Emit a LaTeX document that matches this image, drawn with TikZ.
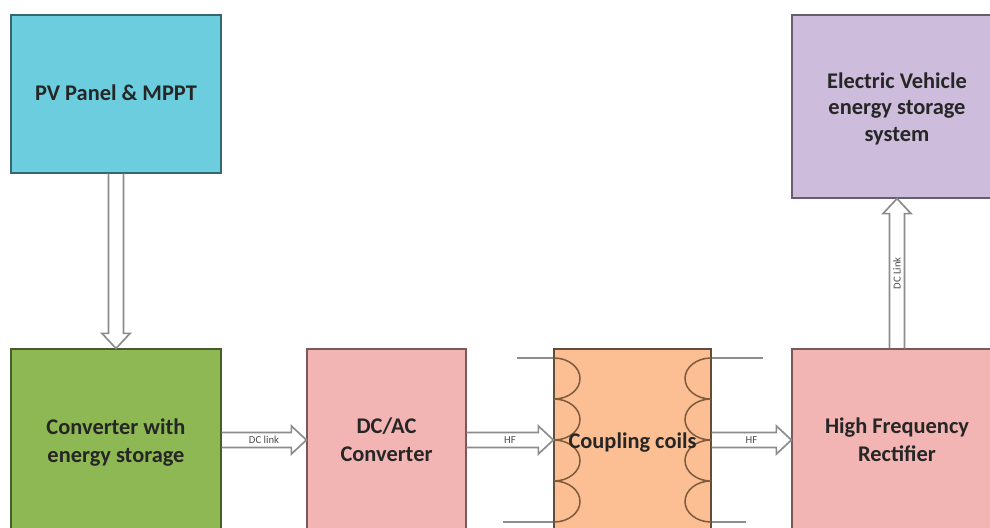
\documentclass[tikz,border=0pt]{standalone}
\usepackage{fontspec}
\setmainfont{Carlito}
\definecolor{wptcyan}{RGB}{108,205,223}
\definecolor{wptgreen}{RGB}{141,184,84}
\definecolor{wptpink}{RGB}{243,181,179}
\definecolor{wptorange}{RGB}{251,191,147}
\definecolor{wptpurple}{RGB}{205,188,219}
\definecolor{wptcoil}{RGB}{128,92,62}
\definecolor{wptgray}{RGB}{140,140,140}
\usetikzlibrary{positioning,calc}
\newcommand{\wptline}[1]{\raisebox{-1.6pt}[\height][\depth]{#1}}

\begin{document}
\begin{tikzpicture}[
  x=0.75pt,y=-0.75pt,
  wptblock/.style={line width=0.9pt,minimum width=157.5pt,
    align=center,font=\fontsize{16.8}{21}\selectfont\bfseries,text=black!85,inner sep=0pt},
  wptlink/.style={draw=wptgray,line width=1.25pt,line join=miter,
    to path={($(\tikztotarget)!11.25pt!(\tikztostart)$) coordinate (hb)
      ($(\tikztostart)!5.6pt!90:(hb)$) -- ($(hb)!5.6pt!-90:(\tikztostart)$)
      -- ($(hb)!10.5pt!-90:(\tikztostart)$) -- (\tikztotarget)
      -- ($(hb)!10.5pt!90:(\tikztostart)$) -- ($(hb)!5.6pt!90:(\tikztostart)$)
      -- ($(\tikztostart)!5.6pt!-90:(hb)$)}},
  wptlabel/.style={font=\fontsize{8}{9}\selectfont,text=black!70,inner sep=0pt},
  wptcoilarc/.style={draw=wptcoil,line width=1.15pt},
  wptlead/.style={draw=wptgray,line width=1.1pt}
]
  \path[use as bounding box,clip] (0,0) rectangle (990,528);
  \fill[white] (0,0) rectangle (990,528);
  % Top row
  \node[wptblock,fill=wptcyan,draw=wptcyan!50!black,minimum height=118.5pt] (pv) at (116,94)
    {\raisebox{1.5pt}{PV Panel \& MPPT}};
  \node[wptblock,fill=wptpurple,draw=wptpurple!50!black,minimum height=137.25pt] (ev) at (897,106.5)
    {\wptline{Electric Vehicle}\\[-1pt]\wptline{energy storage}\\[-1pt]\wptline{system}};
  % Bottom row
  \node[wptblock,fill=wptgreen,draw=wptgreen!50!black,minimum height=136.5pt] (conv) at (116,440)
    {\wptline{Converter with}\\\wptline{energy storage}};
  \node[wptblock,fill=wptpink,draw=wptpink!50!black,minimum width=119.25pt,minimum height=136.5pt] (dcac) at (386.5,440)
    {DC/AC\\Converter};
  \node[wptblock,fill=wptorange,draw=wptorange!40!black,minimum width=117.75pt,minimum height=136.5pt] (coils) at (632.5,440) {};
  \node[wptblock,fill=wptpink,draw=wptpink!50!black,minimum height=136.5pt] (rect) at (897,440)
    {High Frequency\\Rectifier};
  % Coils
  \foreach \yy in {358,399,440,481}{
    \draw[wptcoilarc] (554,\yy) arc[start angle=-90,end angle=90,x radius=26,y radius=20.5];
    \draw[wptcoilarc] (711,\yy) arc[start angle=-90,end angle=-270,x radius=26,y radius=20.5];
  }
  \node[font=\fontsize{16.8}{21}\selectfont\bfseries,text=black!85,inner sep=0pt] (coilstext) at (coils.center) {\wptline{Coupling coils}};
  % Leads
  \coordinate (leadA) at (517,358);
  \coordinate (leadB) at (503,522);
  \coordinate (leadC) at (763,358);
  \coordinate (leadD) at (746,522);
  \draw[wptlead] (leadA) -- (coils.west |- leadA);
  \draw[wptlead] (leadB) -- (coils.west |- leadB);
  \draw[wptlead] (coils.east |- leadC) -- (leadC);
  \draw[wptlead] (coils.east |- leadD) -- (leadD);
  % Links
  \draw[wptlink] (pv.south) to (conv.north);
  \draw[wptlink] (conv.east) to (dcac.west);
  \draw[wptlink] (dcac.east) to (coils.west);
  \draw[wptlink] (coils.east) to (rect.west);
  \draw[wptlink] (rect.north) to (ev.south);
  \node[wptlabel] (lnkA) at ($(conv.east)!0.5!(dcac.west)$) {DC link};
  \node[wptlabel] (lnkB) at ($(dcac.east)!0.5!(coils.west)$) {HF};
  \node[wptlabel] (lnkC) at ($(coils.east)!0.5!(rect.west)$) {HF};
  \node[wptlabel,rotate=90] (lnkD) at ($(rect.north)!0.5!(ev.south)$) {DC Link};
\end{tikzpicture}
\end{document}
